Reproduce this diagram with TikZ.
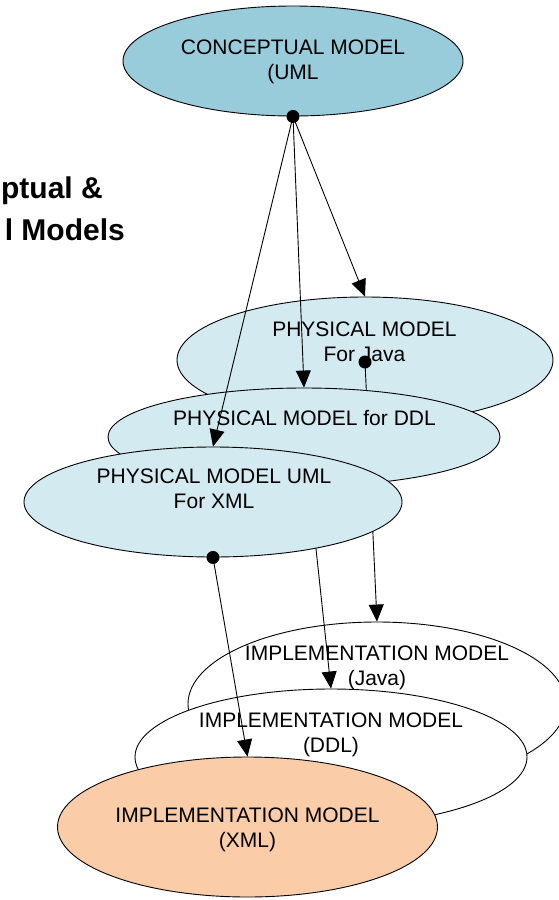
\documentclass[tikz,border=0pt]{standalone}
\usepackage{fontspec}
\setmainfont{Liberation Sans}
\usetikzlibrary{shapes.geometric,arrows.meta}
\definecolor{concfill}{HTML}{99CCDB}
\definecolor{physfill}{HTML}{D2EAF0}
\definecolor{xmlfill}{HTML}{FACCA8}
\begin{document}
\begin{tikzpicture}[x=1pt,y=-1pt,
  ell/.style={ellipse, draw=black, line width=0.9pt, inner sep=0pt},
  lbl/.style={font=\fontsize{21}{25}\selectfont, align=center, inner sep=0pt},
  ttl/.style={font=\fontsize{30}{36}\selectfont\bfseries, inner sep=0pt, anchor=base east},
  conn/.style={line width=0.9pt},
  arr/.style={conn, -{Triangle[length=17pt,width=15pt]}},
  dotn/.style={circle, fill=black, minimum size=13pt, inner sep=0pt}]
\useasboundingbox (0,0) rectangle (558,900);

% implementation ellipses
\node[ell, fill=white, minimum width=378pt, minimum height=164pt] (javaI) at (377,704) {};
\node[lbl] (javaIt) at (377,668) {IMPLEMENTATION MODEL\\(Java)};
\node[ell, fill=white, minimum width=392pt, minimum height=136pt] (ddlI) at (331,757) {};
\node[lbl] (ddlIt) at (331,735) {IMPLEMENTATION MODEL\\(DDL)};
\node[ell, fill=xmlfill, minimum width=380pt, minimum height=140pt] (xmlI) at (247.5,827) {};
\node[lbl] (xmlIt) at (247.5,830) {IMPLEMENTATION MODEL\\(XML)};

% physical model for Java
\node[ell, fill=physfill, minimum width=376pt, minimum height=126pt] (javaP) at (365,360) {};
\node[lbl] (javaPt) at (364.5,342) {PHYSICAL MODEL\\For Java};
\node[dotn] (jdot) at (365,362) {};
\draw[arr] (jdot.center) -- (javaI.north);

% physical model for DDL
\coordinate (ddlc) at (304,437);
\draw[arr] (ddlc) -- (ddlI.north);
\node[ell, fill=physfill, minimum width=392pt, minimum height=98pt] (ddlP) at (304,437) {};
\node[lbl] (ddlPt) at (304.5,418) {PHYSICAL MODEL for DDL};

% physical model for XML
\node[ell, fill=physfill, minimum width=378pt, minimum height=110pt] (xmlP) at (213,502) {};
\node[lbl] (xmlPt) at (214,489) {PHYSICAL MODEL UML\\For XML};
\node[dotn] (xdot) at (xmlP.south) {};
\draw[arr] (xdot.center) -- (xmlI.north);

% conceptual model
\node[ell, fill=concfill, minimum width=340pt, minimum height=110pt] (conc) at (293,61) {};
\node[lbl] (conct) at (293,62) {CONCEPTUAL MODEL\\(UML};
\node[dotn] (cdot) at (conc.south) {};
\draw[arr] (cdot.center) -- (javaP.north);
\draw[arr] (cdot.center) -- (ddlP.north);
\draw[arr] (cdot.center) -- (xmlP.north);

% title (cut off at the left edge)
\node[ttl] (title1) at (103,198) {ptual \&};
\node[ttl] (title2) at (125,240) {l Models};
\end{tikzpicture}
\end{document}
